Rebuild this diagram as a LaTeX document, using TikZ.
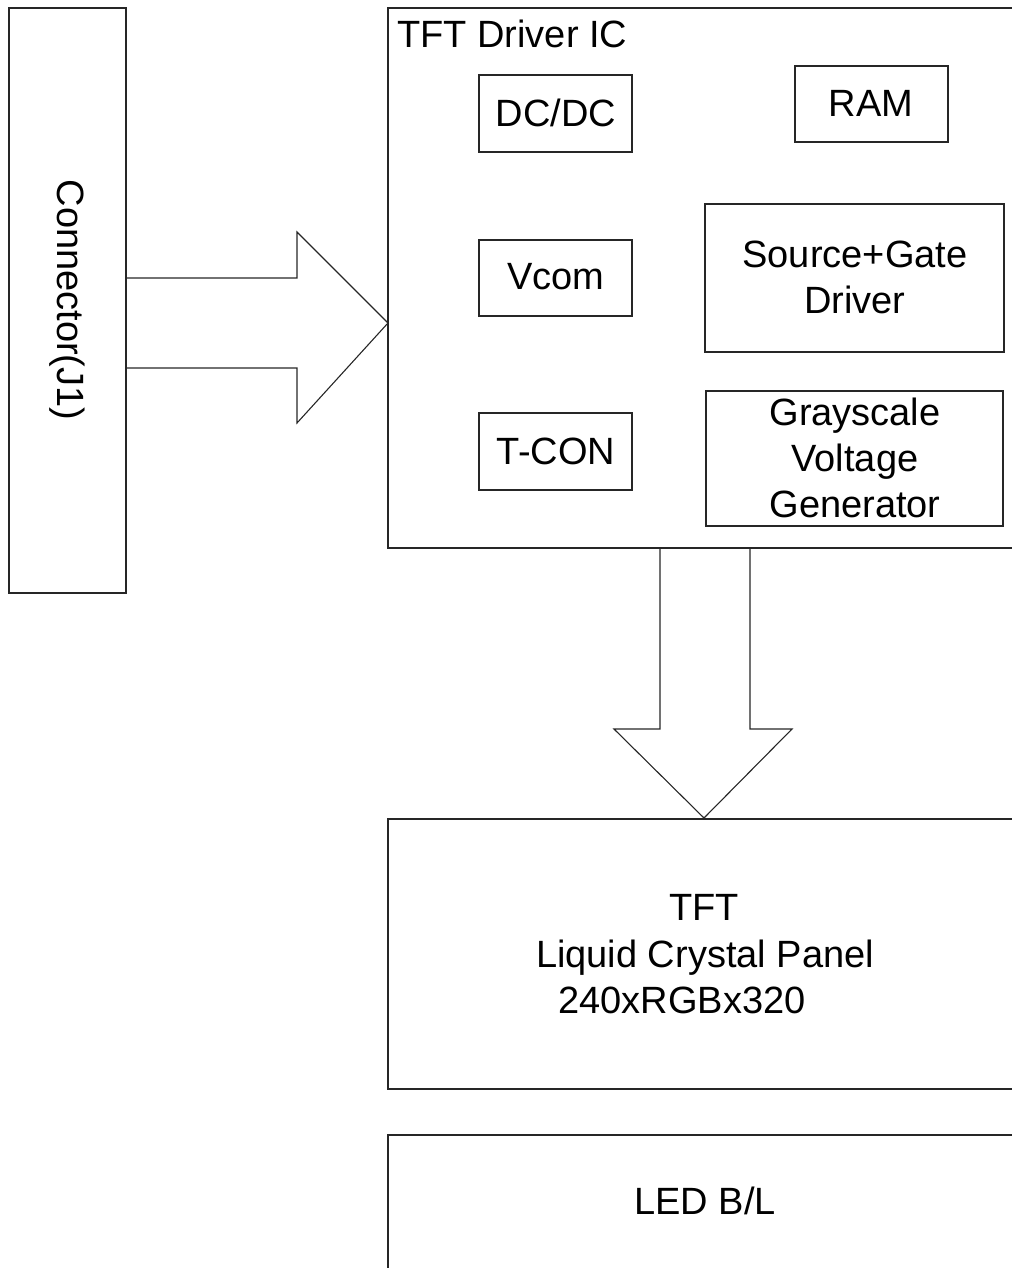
\documentclass[tikz,border=0pt]{standalone}
\usepackage{fontspec}
\setmainfont{Liberation Sans}
\begin{document}
\begin{tikzpicture}[x=1bp,y=-1bp,
  line/.style={draw=black!85, line width=1.1bp},
  blk/.style={line, rectangle, inner sep=0pt},
  lbl/.style={font=\fontsize{38bp}{46bp}\selectfont, align=center, inner sep=0pt},
]
\useasboundingbox (0,0) rectangle (1012,1268);
% outer blocks
\draw[line] (9,8) rectangle (126,593);
\node[lbl, rotate=-90] (conn) at (67,300) {Connector(J1)};
\draw[line] (1030,8) -- (388,8) -- (388,548) -- (1030,548);
\node[lbl, anchor=base west] (ic) at (397,47) {TFT Driver IC};
% inner blocks
\draw[line] (479,75) rectangle (632,152);
\node[lbl] (dcdc) at (556,113) {DC/DC};
\draw[line] (795,66) rectangle (948,142);
\node[lbl] (ram) at (871,103) {RAM};
\draw[line] (479,240) rectangle (632,316);
\node[lbl] (vcom) at (556,277) {Vcom};
\draw[line] (705,204) rectangle (1004,352);
\node[lbl] (sg) at (855,277) {Source+Gate\\Driver};
\draw[line] (479,413) rectangle (632,490);
\node[lbl] (tcon) at (556,451) {T-CON};
\draw[line] (706,391) rectangle (1003,526);
\node[lbl] (gray) at (855,458) {Grayscale\\Voltage\\Generator};
% arrows
\draw[line, line join=miter] (126,278) -- (297,278) -- (297,232) -- (388,323) -- (297,423) -- (297,368) -- (126,368);
\draw[line, line join=miter] (660,548) -- (660,729) -- (614,729) -- (704,818) -- (792,729) -- (750,729) -- (750,548);
% panel
\draw[line] (1030,819) -- (388,819) -- (388,1089) -- (1030,1089);
\node[lbl, anchor=base] (tft1) at (704,920) {TFT};
\node[lbl, anchor=base] (tft2) at (705,967) {Liquid Crystal Panel};
\node[lbl, anchor=base] (tft3) at (682,1013) {240xRGBx320};
% LED
\draw[line] (1030,1135) -- (388,1135) -- (388,1290);
\node[lbl, anchor=base] (led) at (705,1214) {LED B/L};
\end{tikzpicture}
\end{document}
